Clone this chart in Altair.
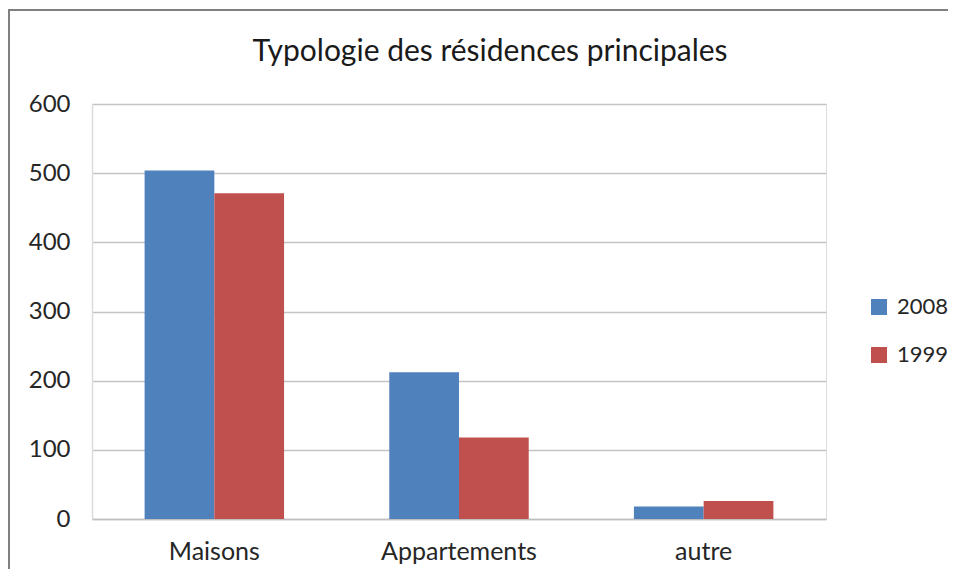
import altair as alt
import pandas as pd

categories = ["Maisons", "Appartements", "autre"]
series = ["2008", "1999"]
values_2008 = [504, 212, 18]
values_1999 = [471, 118, 26]
y_ticks = [0, 100, 200, 300, 400, 500, 600]
colors = ["#4F81BD", "#C0504D"]
title_text = "Typologie des résidences principales"

rows = []
for c, v in zip(categories, values_2008):
    rows.append({"cat": c, "serie": "2008", "val": v})
for c, v in zip(categories, values_1999):
    rows.append({"cat": c, "serie": "1999", "val": v})
df = pd.DataFrame(rows)

FONT = "Lato"
TXT = "#262626"

bars = alt.Chart(df).mark_bar().encode(
    x=alt.X("cat:N", sort=categories, title=None,
            scale=alt.Scale(paddingInner=0.43, paddingOuter=0.215),
            axis=alt.Axis(labelAngle=0, labelFontSize=25, labelFont=FONT,
                          labelColor=TXT, labelPadding=20, ticks=False,
                          domainColor="#bfbfbf", domainWidth=1.5, grid=False)),
    xOffset=alt.XOffset("serie:N", sort=series, scale=alt.Scale(paddingInner=0, paddingOuter=0)),
    y=alt.Y("val:Q", title=None,
            scale=alt.Scale(domain=[0, 600], nice=False),
            axis=alt.Axis(values=y_ticks, labelFontSize=24, labelFont=FONT,
                          labelColor=TXT, labelPadding=22, ticks=False,
                          domain=True, domainColor="#dcdcdc", domainWidth=1.5,
                          grid=True, gridColor="#c4c4c4", gridWidth=1.5)),
    color=alt.Color("serie:N", sort=series,
                    scale=alt.Scale(domain=series, range=colors),
                    legend=alt.Legend(title=None, orient="none", legendX=776, legendY=192,
                                      symbolType="square", symbolSize=256,
                                      symbolStrokeWidth=0, labelFontSize=22,
                                      labelFont=FONT, labelColor=TXT,
                                      labelOffset=7, rowPadding=26, padding=0)),
)

frame = alt.Chart(pd.DataFrame({"a": [0]})).mark_rect(
    fill=None, stroke="#808080", strokeWidth=2
).encode(
    x=alt.value(-83), x2=alt.value(900), y=alt.value(-94), y2=alt.value(600)
)

title = alt.Chart(pd.DataFrame({"t": [title_text]})).mark_text(
    font=FONT, fontSize=30, color="#1a1a1a", align="center", baseline="alphabetic"
).encode(
    text="t:N", x=alt.value(398), y=alt.value(-43)
)

chart = alt.layer(frame, bars, title).properties(
    width=734,
    height=415,
    padding={"left": 84, "top": 96, "right": 122, "bottom": 50},
    autosize=alt.AutoSizeParams(type="none"),
).configure_view(stroke=None).configure(background="white")

chart.save("out.html", embed_options={"renderer": "svg", "actions": False})
